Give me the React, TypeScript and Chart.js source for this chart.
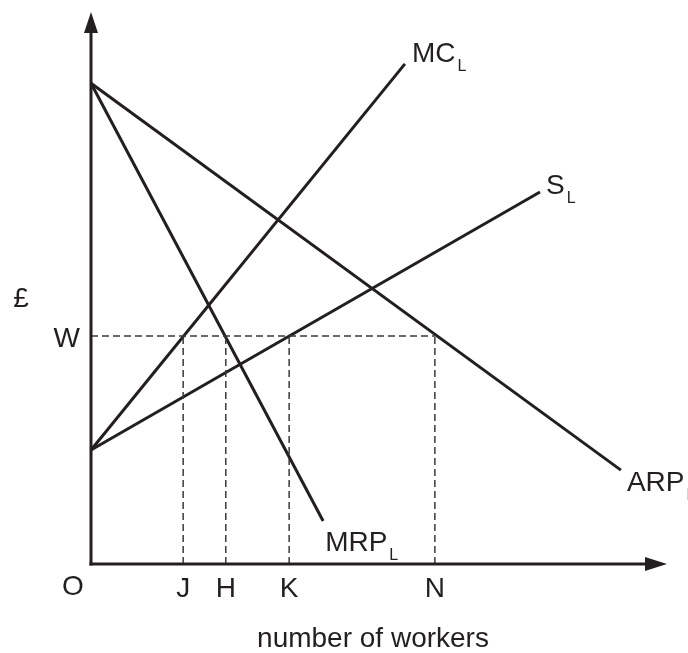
import React, { useEffect, useRef } from "react";
import { Chart, registerables } from "chart.js";

Chart.register(...registerables);

// Curves of the labour-market diagram (abstract units, 0-100 on each axis)
const curveNames = ["MRP", "ARP", "MC", "S"];
const curveSubscripts = ["L", "L", "L", "L"];
const curveStartX = [0, 0, 0, 0];
const curveStartY = [87.1, 87.1, 20.65, 20.65];
const curveEndX = [40.3, 92.0, 54.5, 77.95];
const curveEndY = [7.8, 17.0, 90.6, 67.4];

// Wage level and employment levels
const wageLabel = "W";
const wageLevel = 41.3;
const employmentLabels = ["J", "H", "K", "N"];
const employmentValues = [16.0, 23.4, 34.4, 59.7];

const xAxisTitle = "number of workers";
const yAxisTitle = "£";
const originLabel = "O";

const INK = "#231f20";
const FONT = '"Liberation Sans", Arial, Helvetica, sans-serif';

// label offsets (pixels) from each curve's end point: [dx, dy of main text baseline]
const labelOffsets: Record<string, [number, number]> = {
  MRP: [2, 30],
  ARP: [6, 21],
  MC: [7, -2],
  S: [6, 2],
};

export default function App() {
  const ref = useRef<HTMLCanvasElement | null>(null);

  useEffect(() => {
    const canvas = ref.current;
    if (!canvas) return;

    const datasets: any[] = [];
    // dashed guide lines
    datasets.push({
      data: [
        { x: 0, y: wageLevel },
        { x: employmentValues[employmentValues.length - 1], y: wageLevel },
      ],
      borderColor: "#3a3a3a",
      borderWidth: 1.5,
      borderDash: [7, 4],
      pointRadius: 0,
      clip: false,
    });
    employmentValues.forEach((v) => {
      datasets.push({
        data: [
          { x: v, y: 0 },
          { x: v, y: wageLevel },
        ],
        borderColor: "#3a3a3a",
        borderWidth: 1.5,
        borderDash: [7, 4],
        pointRadius: 0,
        clip: false,
      });
    });
    curveNames.forEach((name, i) => {
      datasets.push({
        label: name,
        data: [
          { x: curveStartX[i], y: curveStartY[i] },
          { x: curveEndX[i], y: curveEndY[i] },
        ],
        borderColor: INK,
        borderWidth: 3,
        pointRadius: 0,
        borderCapStyle: "butt",
        clip: false,
      });
    });

    const decor = {
      id: "decor",
      afterDraw(chart: any) {
        const ctx: CanvasRenderingContext2D = chart.ctx;
        const xs = chart.scales.x;
        const ys = chart.scales.y;
        const area = chart.chartArea;
        const ox = xs.getPixelForValue(0);
        const oy = ys.getPixelForValue(0);
        ctx.save();
        ctx.strokeStyle = INK;
        ctx.fillStyle = INK;
        ctx.lineWidth = 3;
        ctx.lineCap = "butt";
        // y axis
        ctx.beginPath();
        ctx.moveTo(ox, oy + 1.5);
        ctx.lineTo(ox, area.top + 20);
        ctx.stroke();
        ctx.beginPath();
        ctx.moveTo(ox, area.top);
        ctx.lineTo(ox - 7, area.top + 21);
        ctx.lineTo(ox + 7, area.top + 21);
        ctx.closePath();
        ctx.fill();
        // x axis
        ctx.beginPath();
        ctx.moveTo(ox - 1.5, oy);
        ctx.lineTo(area.right - 20, oy);
        ctx.stroke();
        ctx.beginPath();
        ctx.moveTo(area.right, oy);
        ctx.lineTo(area.right - 22, oy - 7);
        ctx.lineTo(area.right - 22, oy + 7);
        ctx.closePath();
        ctx.fill();

        // texts
        ctx.textBaseline = "alphabetic";
        const big = `28px ${FONT}`;
        const small = `16px ${FONT}`;
        ctx.font = big;

        // curve labels
        curveNames.forEach((name, i) => {
          const px = xs.getPixelForValue(curveEndX[i]);
          const py = ys.getPixelForValue(curveEndY[i]);
          const [dx, dy] = labelOffsets[name] || [6, 0];
          ctx.font = big;
          ctx.textAlign = "left";
          const lx = px + dx;
          const ly = py + dy;
          ctx.fillText(name, lx, ly);
          const w = ctx.measureText(name).width;
          ctx.font = small;
          ctx.fillText(curveSubscripts[i], lx + w + 2, ly + 9);
        });

        // employment labels
        ctx.font = big;
        ctx.textAlign = "center";
        employmentLabels.forEach((lab, i) => {
          ctx.fillText(lab, xs.getPixelForValue(employmentValues[i]), oy + 33);
        });
        // origin
        ctx.fillText(originLabel, ox - 18, oy + 31);
        // wage label
        ctx.textAlign = "right";
        ctx.fillText(wageLabel, ox - 11, ys.getPixelForValue(wageLevel) + 11);
        // y title
        ctx.textAlign = "center";
        ctx.fillText(yAxisTitle, 21, (area.top + oy) / 2 + 19);
        // x title
        ctx.fillText(xAxisTitle, 373, oy + 83);
        ctx.restore();
      },
    };

    const chart = new Chart(canvas, {
      type: "line",
      data: { datasets },
      options: {
        animation: false,
        responsive: false,
        maintainAspectRatio: false,
        devicePixelRatio: 1,
        layout: { padding: { left: 91, top: 12, right: 21, bottom: 89 } },
        plugins: { legend: { display: false }, tooltip: { enabled: false } },
        scales: {
          x: { type: "linear", min: 0, max: 100, display: false },
          y: { type: "linear", min: 0, max: 100, display: false },
        },
      },
      plugins: [decor],
    });
    return () => chart.destroy();
  }, []);

  return (
    <div style={{ position: "absolute", left: 0, top: 0, width: 688, height: 653, background: "#fff" }}>
      <canvas ref={ref} width={688} height={653} style={{ width: 688, height: 653 }} />
    </div>
  );
}
